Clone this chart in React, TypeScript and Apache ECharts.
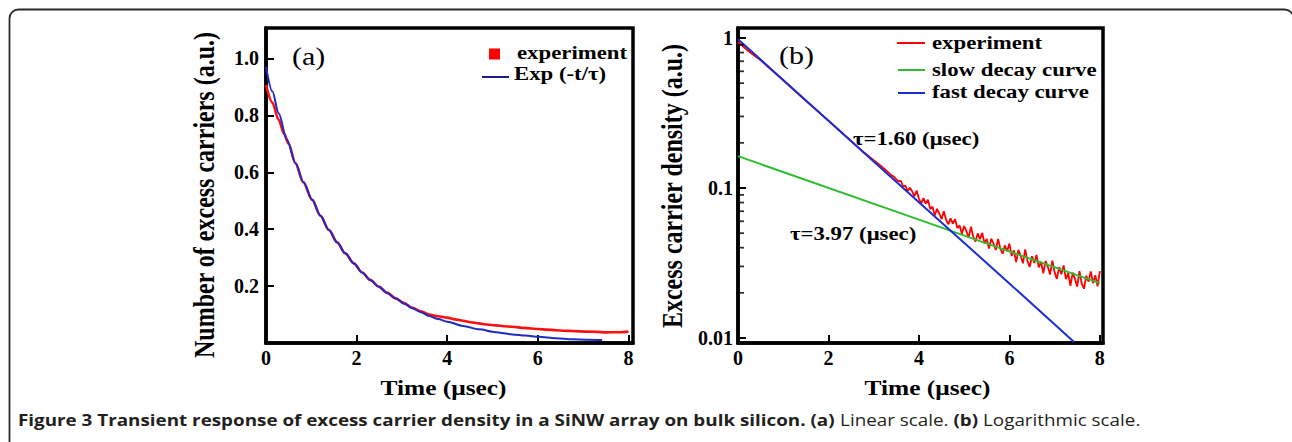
import React, { useEffect, useRef } from 'react';
import * as echarts from 'echarts';

// ---------- ticks ----------
const xTicks = [0, 2, 4, 6, 8];
const yTicksLinear = [0.2, 0.4, 0.6, 0.8, 1.0];
const yTicksLog = [0.01, 0.1, 1];
const logMinorTicks = [0.02, 0.03, 0.04, 0.05, 0.06, 0.07, 0.08, 0.09, 0.2, 0.3, 0.4, 0.5, 0.6, 0.7, 0.8, 0.9];

// ---------- panel (a): linear ----------
const linExperiment = [
  [0, 0.907], [0.14, 0.845], [0.28, 0.784], [0.4, 0.735], [0.5, 0.7], [0.65, 0.632], [0.82, 0.565],
  [1.02, 0.503], [1.2, 0.447], [1.39, 0.397], [1.57, 0.354], [1.75, 0.315], [1.94, 0.28],
  [2.12, 0.248], [2.3, 0.222], [2.49, 0.198], [2.67, 0.177], [2.86, 0.157], [3.05, 0.14],
  [3.23, 0.124], [3.42, 0.111], [3.6, 0.1], [3.8, 0.094], [4.0, 0.089], [4.17, 0.083],
  [4.35, 0.078], [4.52, 0.073], [4.7, 0.069], [4.88, 0.065], [5.07, 0.062], [5.25, 0.059],
  [5.44, 0.057], [5.7, 0.053], [6.02, 0.049], [6.2, 0.047], [6.4, 0.045], [6.58, 0.043],
  [6.76, 0.042], [7.1, 0.04], [7.3, 0.039], [7.5, 0.0375], [7.8, 0.038], [8.0, 0.04],
];
const linFit = [
  [0, 0.971], [0.14, 0.885], [0.28, 0.807], [0.46, 0.715], [0.65, 0.632], [0.83, 0.565],
  [1.02, 0.503], [1.2, 0.448], [1.39, 0.397], [1.57, 0.353], [1.75, 0.315], [1.94, 0.279],
  [2.12, 0.248], [2.3, 0.221], [2.49, 0.198], [2.67, 0.176], [2.86, 0.157], [3.05, 0.138],
  [3.23, 0.122], [3.42, 0.108], [3.6, 0.095], [3.8, 0.084], [4.0, 0.075], [4.35, 0.06],
  [4.7, 0.048], [5.07, 0.038], [5.44, 0.03], [5.73, 0.026], [6.02, 0.022], [6.4, 0.017],
  [6.76, 0.013], [7.1, 0.0115], [7.42, 0.0105],
];

// ---------- panel (b): logarithmic ----------
const logExperiment = [
  [0, 0.94], [0.25, 0.81], [0.5, 0.71], [1, 0.522], [1.5, 0.381], [2, 0.281], [2.5, 0.206],
  [2.8, 0.171], [2.9, 0.162], [3, 0.153], [3.1, 0.145], [3.2, 0.137], [3.3, 0.129], [3.4, 0.121],
  [3.45, 0.119], [3.5, 0.114], [3.55, 0.111],
  [3.6, 0.1117], [3.65, 0.1023], [3.7, 0.1038], [3.75, 0.0955], [3.8, 0.1005], [3.85, 0.095],
  [3.9, 0.0881], [3.95, 0.0961], [4.0, 0.085], [4.05, 0.0787], [4.1, 0.0856], [4.15, 0.0786],
  [4.2, 0.0834], [4.25, 0.0724], [4.3, 0.0751], [4.35, 0.0657], [4.4, 0.0726], [4.45, 0.0676],
  [4.5, 0.0619], [4.55, 0.07], [4.6, 0.0616], [4.65, 0.0573], [4.7, 0.0627], [4.75, 0.0579],
  [4.8, 0.0619], [4.85, 0.054], [4.9, 0.0563], [4.95, 0.0495], [5.0, 0.0558], [5.05, 0.0516],
  [5.1, 0.0467], [5.15, 0.0553], [5.2, 0.0475], [5.25, 0.0439], [5.3, 0.0498], [5.35, 0.0455],
  [5.4, 0.0502], [5.45, 0.0428], [5.5, 0.0458], [5.55, 0.0395], [5.6, 0.0459], [5.65, 0.0425],
  [5.7, 0.0386], [5.75, 0.0458], [5.8, 0.0395], [5.85, 0.0365], [5.9, 0.0414], [5.95, 0.0379],
  [6.0, 0.0426], [6.05, 0.0352], [6.1, 0.0384], [6.15, 0.0321], [6.2, 0.0387], [6.25, 0.0354],
  [6.3, 0.0315], [6.35, 0.039], [6.4, 0.0326], [6.45, 0.0298], [6.5, 0.0351], [6.55, 0.0316],
  [6.6, 0.0358], [6.65, 0.0296], [6.7, 0.0323], [6.75, 0.027], [6.8, 0.0326], [6.85, 0.0298],
  [6.9, 0.0265], [6.95, 0.0328], [7.0, 0.0274], [7.05, 0.0248], [7.1, 0.0297], [7.15, 0.0266],
  [7.2, 0.0305], [7.25, 0.0247], [7.3, 0.0271], [7.35, 0.0223], [7.4, 0.0273], [7.45, 0.0248],
  [7.5, 0.022], [7.55, 0.0279], [7.6, 0.023], [7.65, 0.0213], [7.7, 0.026], [7.75, 0.0237],
  [7.8, 0.0278], [7.85, 0.0232], [7.9, 0.0262], [7.95, 0.0221], [8.0, 0.0279],
];
const slowDecay = [[0, 0.163], [4, 0.0615], [8, 0.0232]];
const fastDecay = [[0, 0.98], [2, 0.281], [4, 0.0805], [6, 0.0231], [7.43, 0.0094]];

const serif = "'Liberation Serif', 'Times New Roman', serif";
const sans = "'Open Sans', 'Noto Sans', sans-serif";

function txt(text: string, x: number, y: number, opts: any = {}) {
  const align = opts.align || 'left';
  return {
    type: 'text',
    x,
    y,
    scaleX: opts.scaleX ?? 1.2,
    scaleY: opts.scaleY ?? 1,
    rotation: opts.rotation ?? 0,
    z: 10,
    style: {
      text,
      fill: '#000',
      fontFamily: serif,
      fontWeight: opts.weight || 'bold',
      fontSize: opts.size || 19,
      align,
      textAlign: align,
      verticalAlign: 'middle',
      textVerticalAlign: 'middle',
    },
  };
}

function App() {
  const ref = useRef<HTMLDivElement>(null);
  useEffect(() => {
    if (!ref.current) return;
    const chart = echarts.init(ref.current, undefined, { renderer: 'svg' });
    const axisLine = { show: true, onZero: false, lineStyle: { color: '#000', width: 3.5 } };
    const axisTick = { show: true, inside: true, length: 8, lineStyle: { color: '#000', width: 2 } };
    const labelStyle = { fontFamily: serif, fontWeight: 'bold', fontSize: 20, color: '#000' };
    const near = (a: number, b: number) => Math.abs(a - b) < 1e-6 * Math.max(1, Math.abs(b));
    const xFmt = (v: number) => (xTicks.some((t) => near(v, t)) ? String(v) : '');
    const option: any = {
      animation: false,
      backgroundColor: '#fff',
      grid: [
        { left: 266, top: 28, width: 367, height: 315, show: true, borderColor: '#000', borderWidth: 3.5, backgroundColor: 'transparent' },
        { left: 738, top: 28, width: 365, height: 315, show: true, borderColor: '#000', borderWidth: 3.5, backgroundColor: 'transparent' },
      ],
      xAxis: [
        {
          gridIndex: 0, type: 'value', min: 0, max: 8.1, interval: 2,
          axisLine, axisTick, splitLine: { show: false },
          axisLabel: { ...labelStyle, margin: 5, formatter: xFmt },
        },
        {
          gridIndex: 1, type: 'value', min: 0, max: 8.07, interval: 2,
          axisLine, axisTick, splitLine: { show: false },
          axisLabel: { ...labelStyle, margin: 5, formatter: xFmt },
        },
      ],
      yAxis: [
        {
          gridIndex: 0, type: 'value', min: 0, max: 1.107, interval: 0.2,
          axisLine, axisTick, splitLine: { show: false },
          axisLabel: {
            ...labelStyle, margin: 7,
            formatter: (v: number) => (yTicksLinear.some((t) => near(v, t)) ? v.toFixed(1) : ''),
          },
        },
        {
          gridIndex: 1, type: 'log', logBase: 10, min: 0.009261, max: 1.166,
          axisLine, axisTick, splitLine: { show: false }, minorTick: { show: false },
          axisLabel: {
            ...labelStyle, margin: 5,
            formatter: (v: number) => {
              const t = yTicksLog.find((k) => Math.abs(v - k) < k * 1e-4);
              return t === undefined ? '' : String(t);
            },
          },
        },
      ],
      series: [
        {
          name: 'experiment', type: 'line', xAxisIndex: 0, yAxisIndex: 0, data: linExperiment,
          showSymbol: false, smooth: 0.3, smoothMonotone: 'x', z: 2,
          lineStyle: { color: '#ff1010', width: 2.6 },
        },
        {
          name: 'Exp (-t/τ)', type: 'line', xAxisIndex: 0, yAxisIndex: 0, data: linFit,
          showSymbol: false, smooth: 0.3, smoothMonotone: 'x', z: 3,
          lineStyle: { color: '#1f2bc4', width: 2 },
        },
        {
          name: 'experiment (log)', type: 'line', xAxisIndex: 1, yAxisIndex: 1, data: logExperiment,
          showSymbol: false, z: 2,
          lineStyle: { color: '#ff0000', width: 1.8 },
        },
        {
          name: 'slow decay curve', type: 'line', xAxisIndex: 1, yAxisIndex: 1, data: slowDecay,
          showSymbol: false, z: 3,
          lineStyle: { color: '#2ebd2e', width: 2 },
        },
        {
          name: 'fast decay curve', type: 'line', xAxisIndex: 1, yAxisIndex: 1, data: fastDecay,
          showSymbol: false, z: 4,
          lineStyle: { color: '#1a2ed2', width: 2 },
        },
        {
          name: 'minor ticks', type: 'scatter', xAxisIndex: 1, yAxisIndex: 1,
          data: logMinorTicks.map((v) => [0, v]), clip: false, silent: true,
          symbol: 'rect', symbolSize: [8, 1.8], symbolOffset: [2, 0], z: 5,
          itemStyle: { color: '#000' },
        },
      ],
      graphic: [
        {
          type: 'rect', z: 0,
          shape: { x: 9.5, y: 9.5, width: 1284, height: 470, r: 9 },
          style: { fill: 'none', stroke: '#2b2b2b', lineWidth: 1.8 },
        },
        // panel labels
        txt('(a)', 292, 56, { size: 25, weight: 'normal', scaleX: 1.2 }),
        txt('(b)', 779, 55, { size: 25, weight: 'normal', scaleX: 1.2 }),
        // legend (a)
        { type: 'rect', z: 10, shape: { x: 489, y: 48.5, width: 11, height: 11 }, style: { fill: '#ff0000' } },
        txt('experiment', 517, 53),
        { type: 'line', z: 10, shape: { x1: 482, y1: 77, x2: 509, y2: 77 }, style: { stroke: '#1c1c8c', lineWidth: 2 } },
        txt('Exp (-t/τ)', 514, 74),
        // legend (b)
        { type: 'line', z: 10, shape: { x1: 897, y1: 43, x2: 925, y2: 43 }, style: { stroke: '#ff0000', lineWidth: 2 } },
        txt('experiment', 932, 43),
        { type: 'line', z: 10, shape: { x1: 898, y1: 70, x2: 925, y2: 70 }, style: { stroke: '#2ebd2e', lineWidth: 2 } },
        txt('slow decay curve', 932, 70),
        { type: 'line', z: 10, shape: { x1: 898, y1: 93, x2: 925, y2: 93 }, style: { stroke: '#1a2ed2', lineWidth: 2 } },
        txt('fast decay curve', 932, 92),
        // annotations
        txt('τ=1.60 (μsec)', 853, 139),
        txt('τ=3.97 (μsec)', 790, 234),
        // axis names
        txt('Time (μsec)', 443.5, 388, { align: 'center', size: 20.5, scaleX: 1.24 }),
        txt('Time (μsec)', 927.5, 388, { align: 'center', size: 20.5, scaleX: 1.24 }),
        txt('Number of excess carriers (a.u.)', 204, 195, { align: 'center', size: 24, scaleX: 1, scaleY: 1.2, rotation: Math.PI / 2 }),
        txt('Excess carrier density (a.u.)', 672, 186, { align: 'center', size: 24, scaleX: 1, scaleY: 1.2, rotation: Math.PI / 2 }),
        // caption
        {
          type: 'text', x: 18, y: 420, z: 10, scaleX: 1.215,
          style: {
            text: '{b|Figure 3 Transient response of excess carrier density in a SiNW array on bulk silicon. (a)}{r| Linear scale. }{b|(b)}{r| Logarithmic scale.}',
            verticalAlign: 'middle', textVerticalAlign: 'middle', align: 'left', textAlign: 'left',
            fontFamily: sans, fontSize: 15.5, fill: '#231f20',
            rich: {
              b: { fontFamily: sans, fontSize: 15.5, fontWeight: 'bold', fill: '#231f20' },
              r: { fontFamily: sans, fontSize: 15.5, fontWeight: 'normal', fill: '#231f20' },
            },
          },
        },
      ],
    };
    chart.setOption(option);
    return () => chart.dispose();
  }, []);
  return (
    <div
      ref={ref}
      style={{ position: 'absolute', left: 0, top: 0, width: 1292, height: 442, background: '#fff' }}
    />
  );
}

export default App;
